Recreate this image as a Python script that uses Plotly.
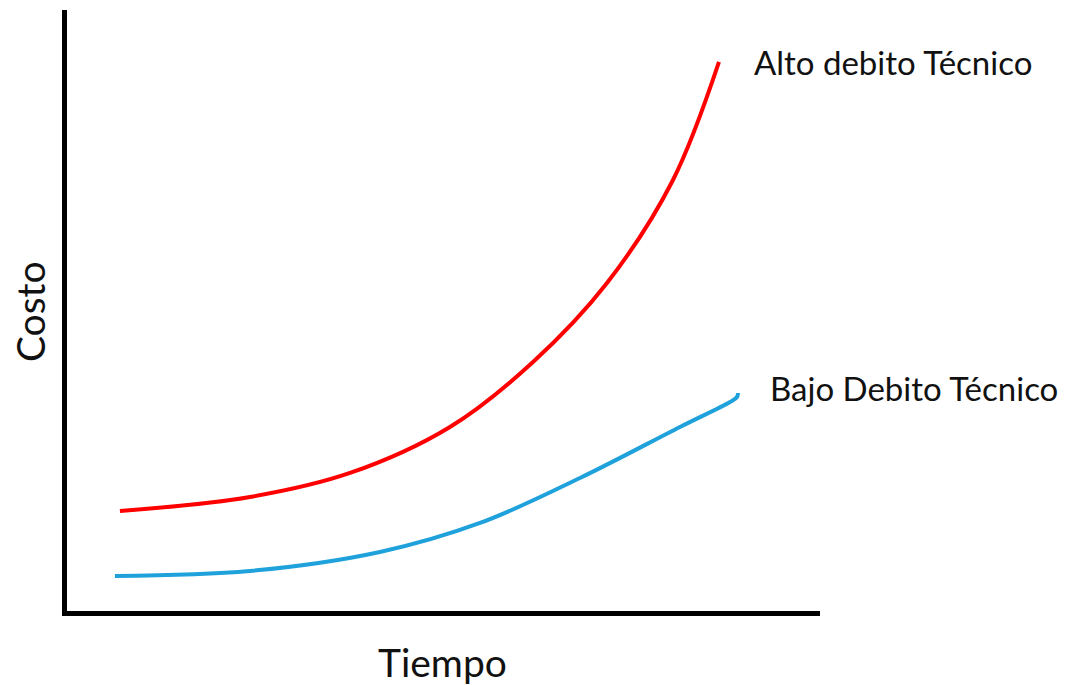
import plotly.graph_objects as go

# Data (time 0-100, cost 0-100)
alto_x = [7.28, 24.5, 37.75, 50.99, 61.99, 71.79, 80.53, 86.62]
alto_y = [16.92, 19.24, 23.22, 30.85, 41.63, 54.73, 71.81, 91.38]

bajo_x = [6.62, 24.5, 41.72, 54.97, 68.21, 81.46, 88.08, 89.01, 89.14]
bajo_y = [6.14, 6.97, 10.12, 14.93, 22.39, 30.85, 34.99, 35.82, 36.48]

label_alto = "Alto debito Técnico"
label_bajo = "Bajo Debito Técnico"
label_x = "Tiempo"
label_y = "Costo"

FONT = "Lato"

fig = go.Figure()
fig.add_trace(go.Scatter(x=alto_x, y=alto_y, mode="lines",
                         line=dict(color="#FF0000", width=4, shape="spline", smoothing=1.0),
                         hoverinfo="skip"))
fig.add_trace(go.Scatter(x=bajo_x, y=bajo_y, mode="lines",
                         line=dict(color="#1FA2DC", width=4, shape="spline", smoothing=1.0),
                         hoverinfo="skip"))

axis_common = dict(showgrid=False, zeroline=False, showticklabels=False, ticks="",
                   showline=True, linecolor="black", linewidth=5, fixedrange=True)
fig.update_xaxes(range=[0.27, 100], **axis_common)
fig.update_yaxes(range=[0.33, 100], **axis_common)

ann_font = dict(family=FONT, size=33, color="#111111")
fig.update_layout(
    width=1076, height=677,
    margin=dict(l=59, r=264, t=2, b=74),
    paper_bgcolor="white", plot_bgcolor="white",
    showlegend=False,
    annotations=[
        dict(text=label_alto, xref="paper", yref="paper", x=0.9097, y=0.9135,
             xanchor="left", yanchor="middle", showarrow=False, font=ann_font),
        dict(text=label_bajo, xref="paper", yref="paper", x=0.931, y=0.371,
             xanchor="left", yanchor="middle", showarrow=False, font=ann_font),
        dict(text=label_y, xref="paper", yref="paper", x=-0.049, y=0.4975,
             xanchor="center", yanchor="middle", textangle=-90, showarrow=False,
             font=dict(family=FONT, size=39, color="#111111")),
        dict(text=label_x, xref="paper", yref="paper", x=0.4993, y=-0.0849,
             xanchor="center", yanchor="middle", showarrow=False,
             font=dict(family=FONT, size=39, color="#111111")),
    ],
)

fig.write_html("out.html")
